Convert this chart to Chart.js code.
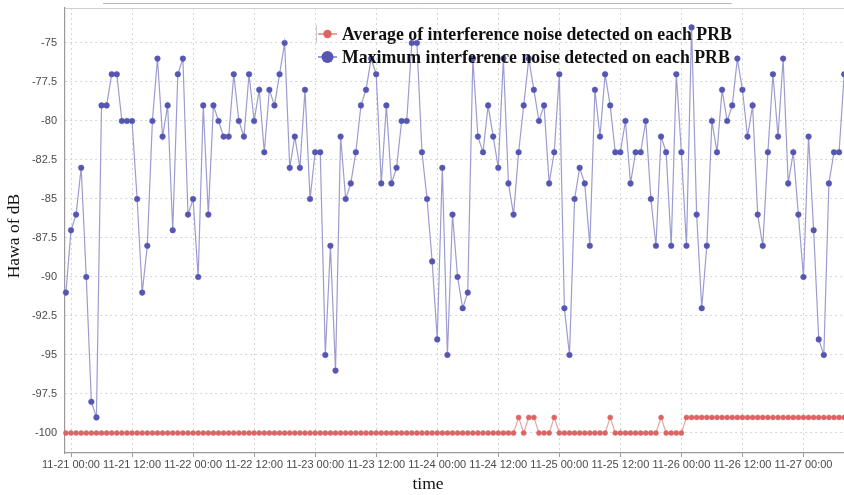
<!DOCTYPE html>
<html><head><meta charset="utf-8">
<script src="https://cdn.jsdelivr.net/npm/chart.js@4.4.0/dist/chart.umd.min.js"></script>
<style>html,body{margin:0;padding:0;background:#fff;overflow:hidden;width:844px;height:495px}#wrap{position:relative;width:849px;height:495px;overflow:hidden}</style>
</head><body><div id="wrap"><canvas id="c" width="849" height="495"></canvas></div>
<script>
// hourly samples, first sample is 11-20 23:00 (hour -1 relative to 11-21 00:00)
const firstHour = -1;
const xTickLabels = ['11-21 00:00','11-21 12:00','11-22 00:00','11-22 12:00','11-23 00:00','11-23 12:00','11-24 00:00','11-24 12:00','11-25 00:00','11-25 12:00','11-26 00:00','11-26 12:00','11-27 00:00'];
const legendLabels = ['Average of interference noise detected on each PRB','Maximum interference noise detected on each PRB'];
const yTitle = 'Hawa of dB';
const xTitle = 'time';

const maxNoise = [
 -91,-87,-86,-83,-90,-98,-99,-79,-79,-77,
 -77,-80,-80,-80,-85,-91,-88,-80,-76,-81,
 -79,-87,-77,-76,-86,-85,-90,-79,-86,-79,
 -80,-81,-81,-77,-80,-81,-77,-80,-78,-82,
 -78,-79,-77,-75,-83,-81,-83,-78,-85,-82,
 -82,-95,-88,-96,-81,-85,-84,-82,-79,-78,
 -76,-77,-84,-79,-84,-83,-80,-80,-75,-75,
 -82,-85,-89,-94,-83,-95,-86,-90,-92,-91,
 -76,-81,-82,-79,-81,-83,-76,-84,-86,-82,
 -79,-76,-78,-80,-79,-84,-82,-77,-92,-95,
 -85,-83,-84,-88,-78,-81,-77,-79,-82,-82,
 -80,-84,-82,-82,-80,-85,-88,-81,-82,-88,
 -77,-82,-88,-74,-86,-92,-88,-80,-82,-78,
 -80,-79,-76,-78,-81,-79,-86,-88,-82,-77,
 -81,-76,-84,-82,-86,-90,-81,-87,-94,-95,
 -84,-82,-82,-77
];
const avgNoise = [
 -100,-100,-100,-100,-100,-100,-100,-100,-100,-100,
 -100,-100,-100,-100,-100,-100,-100,-100,-100,-100,
 -100,-100,-100,-100,-100,-100,-100,-100,-100,-100,
 -100,-100,-100,-100,-100,-100,-100,-100,-100,-100,
 -100,-100,-100,-100,-100,-100,-100,-100,-100,-100,
 -100,-100,-100,-100,-100,-100,-100,-100,-100,-100,
 -100,-100,-100,-100,-100,-100,-100,-100,-100,-100,
 -100,-100,-100,-100,-100,-100,-100,-100,-100,-100,
 -100,-100,-100,-100,-100,-100,-100,-100,-100,-99,
 -100,-99,-99,-100,-100,-100,-99,-100,-100,-100,
 -100,-100,-100,-100,-100,-100,-100,-99,-100,-100,
 -100,-100,-100,-100,-100,-100,-100,-99,-100,-100,
 -100,-100,-99,-99,-99,-99,-99,-99,-99,-99,
 -99,-99,-99,-99,-99,-99,-99,-99,-99,-99,
 -99,-99,-99,-99,-99,-99,-99,-99,-99,-99,
 -99,-99,-99,-99
];

const toPts = arr => arr.map((v,i)=>({x:firstHour+i,y:v}));

const RED_LINE='#e9a3a3', RED_PT='#dc6464', BLUE_LINE='#9c9cd0', BLUE_PT='#5555b3';

const decor = {
  id:'decor',
  afterDraw(chart){
    const ctx = chart.ctx, ca = chart.chartArea;
    ctx.save();
    ctx.strokeStyle='#cfcfcf'; ctx.lineWidth=1;
    ctx.beginPath(); ctx.moveTo(ca.left, ca.top+0.5); ctx.lineTo(ca.right, ca.top+0.5); ctx.stroke();
    ctx.strokeStyle='#b8b8b8';
    ctx.beginPath(); ctx.moveTo(103, 3.5); ctx.lineTo(732, 3.5); ctx.stroke();
    ctx.strokeStyle='#c8c8c8';
    ctx.beginPath(); ctx.moveTo(316.5, 25); ctx.lineTo(316.5, 43); ctx.stroke();
    const rows = [{y:34, c:RED_PT, l:RED_LINE, r:4.2},{y:57, c:BLUE_PT, l:BLUE_LINE, r:6}];
    ctx.font = 'bold 17.8px "Liberation Serif", "Times New Roman", serif';
    ctx.textBaseline='alphabetic'; ctx.textAlign='left';
    rows.forEach((row,i)=>{
      ctx.strokeStyle=row.l; ctx.lineWidth=2;
      ctx.beginPath(); ctx.moveTo(318,row.y); ctx.lineTo(337,row.y); ctx.stroke();
      ctx.fillStyle=row.c; ctx.beginPath(); ctx.arc(327.5,row.y,row.r,0,Math.PI*2); ctx.fill();
      ctx.fillStyle='#111';
      ctx.fillText(chart.data.datasets[i].label, 342, row.y+6);
    });
    ctx.font = '17.5px "Liberation Serif", "Times New Roman", serif';
    ctx.fillStyle='#111';
    ctx.textAlign='center'; ctx.textBaseline='middle';
    ctx.save(); ctx.translate(14, 236); ctx.rotate(-Math.PI/2); ctx.fillText(yTitle, 0, 0); ctx.restore();
    ctx.textBaseline='alphabetic';
    ctx.fillText(xTitle, 428, 489);
    ctx.restore();
  }
};

const pxPerHour = 732/144;
const leftPx = 65, rightPx = 844;
const xMin = -(71-leftPx)/pxPerHour;
const xMax = xMin + (rightPx-leftPx)/pxPerHour;
const areaTop = 8, areaBottom = 453;
const pxPerDb = 390/25;
const yMax = -75 + (43-areaTop)/pxPerDb;
const yMin = -100 - (areaBottom-433)/pxPerDb;

new Chart(document.getElementById('c'), {
  type:'line',
  data:{datasets:[
    {label:legendLabels[0], data:toPts(avgNoise), borderColor:RED_LINE, borderWidth:1.2,
     pointBackgroundColor:RED_PT, pointBorderColor:RED_PT, pointRadius:2.5, pointBorderWidth:0.5, tension:0, clip:false},
    {label:legendLabels[1], data:toPts(maxNoise), borderColor:BLUE_LINE, borderWidth:1.2,
     pointBackgroundColor:BLUE_PT, pointBorderColor:BLUE_PT, pointRadius:2.8, pointBorderWidth:0.5, tension:0, clip:false}
  ]},
  options:{
    responsive:false, animation:false, devicePixelRatio:1,
    layout:{padding:{top:areaTop, right:0, left:0, bottom:0}},
    plugins:{legend:{display:false}, tooltip:{enabled:false}},
    scales:{
      x:{type:'linear', min:xMin, max:xMax,
        afterFit(s){ s.height = 495-areaBottom; s.paddingLeft = 0; s.paddingRight = 0; },
        ticks:{stepSize:12, includeBounds:false, autoSkip:false, maxRotation:0,
          callback:(v)=>{const k=Math.round(v/12); return (Math.abs(v-12*k)<1e-6 && xTickLabels[k]) ? xTickLabels[k] : '';},
          font:{family:'"Liberation Sans", Arial, sans-serif', size:11}, color:'#4a4a4a', padding:1},
        grid:{color:'#d6d6d6', tickColor:'#9a9a9a', tickLength:4, lineWidth:1},
        border:{color:'#9a9a9a', width:1.2, dash:[2,3]}
      },
      y:{min:yMin, max:yMax,
        afterFit(s){ s.width = leftPx; s.paddingTop = 0; s.paddingBottom = 0; },
        ticks:{stepSize:2.5, includeBounds:false,
          font:{family:'"Liberation Sans", Arial, sans-serif', size:11}, color:'#4a4a4a', padding:8},
        grid:{color:'#d6d6d6', drawTicks:false, lineWidth:1},
        border:{color:'#9a9a9a', width:1.2, dash:[2,3]}
      }
    }
  },
  plugins:[decor]
});
</script></body></html>
